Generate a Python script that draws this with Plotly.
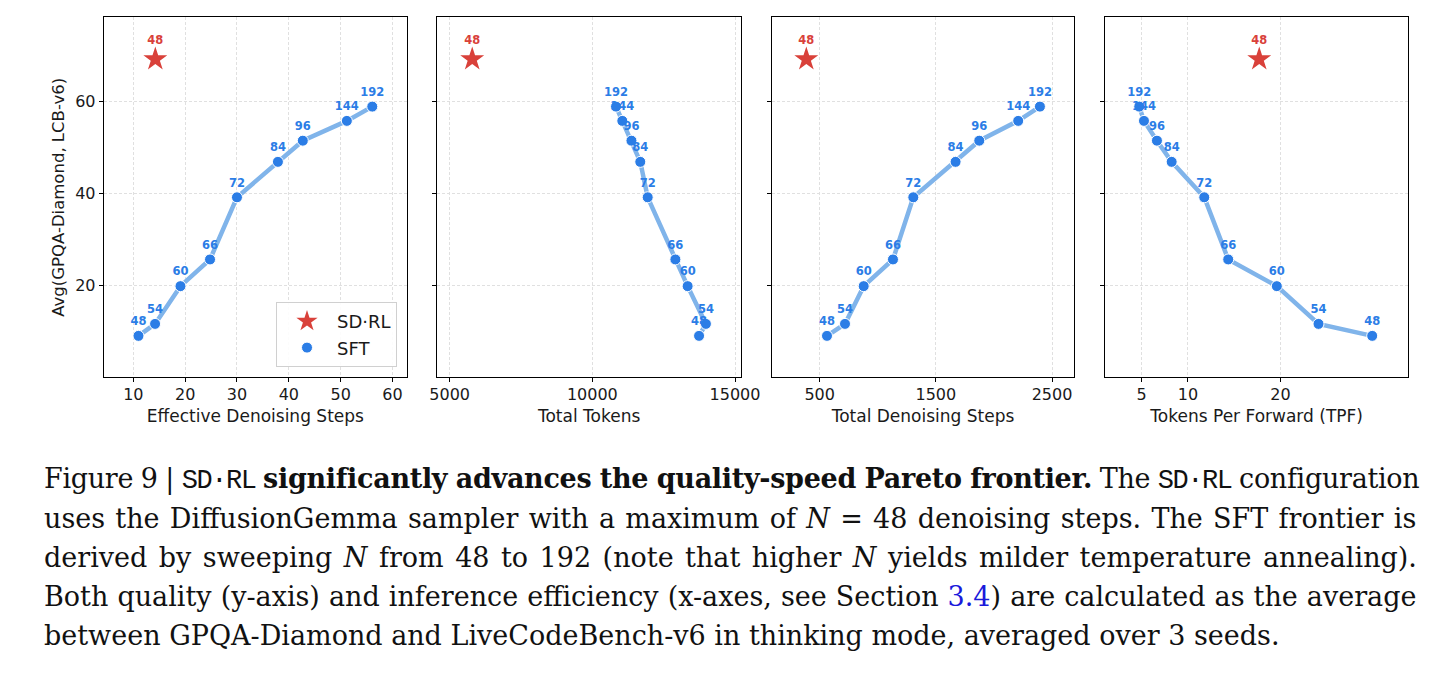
import plotly.graph_objects as go

# sampler steps N for each frontier point
steps_n = [48, 54, 60, 66, 72, 84, 96, 144, 192]

# quality = avg(GPQA-Diamond, LCB-v6)
sft_quality = [9.1, 11.7, 19.9, 25.7, 39.2, 46.9, 51.5, 55.8, 58.9]
sdrl_quality = [69.2]

# efficiency metrics for SFT frontier
sft_eff_steps = [11.0, 14.2, 19.1, 24.8, 30.0, 37.9, 42.7, 51.2, 56.1]
sft_total_tokens = [13740, 13980, 13340, 12910, 11940, 11680, 11370, 11050, 10830]
sft_total_steps = [563, 718, 879, 1131, 1306, 1670, 1874, 2209, 2396]
sft_tpf = [29.9, 24.1, 19.6, 14.35, 11.76, 8.24, 6.65, 5.25, 4.74]

# same metrics for SD-RL (N = 48)
sdrl_n = [48]
sdrl_eff_steps = [14.25]
sdrl_total_tokens = [5790]
sdrl_total_steps = [385]
sdrl_tpf = [17.7]

x_titles = ['Effective Denoising Steps', 'Total Tokens', 'Total Denoising Steps', 'Tokens Per Forward (TPF)']
x_ticks = [[10, 20, 30, 40, 50, 60], [5000, 10000, 15000], [500, 1500, 2500], [5, 10, 20]]
x_ranges = [[4.29, 62.8], [4566, 15210], [87, 2692], [1.04, 33.8]]
y_ticks = [20, 40, 60]

sft_x = [sft_eff_steps, sft_total_tokens, sft_total_steps, sft_tpf]
sdrl_x = [sdrl_eff_steps, sdrl_total_tokens, sdrl_total_steps, sdrl_tpf]

W, H = 1451, 676
panel_px = [(103.7, 407.0), (437.3, 741.0), (771.7, 1074.3), (1105.0, 1408.3)]
y_dom = [1 - 377.3 / H, 1 - 17.3 / H]

BLUE = '#2b7de6'
LINE_BLUE = '#80b4ea'
RED = '#d9413a'
AX_FONT = 'DejaVu Sans'

fig = go.Figure()

for i in range(4):
    xa = 'x' if i == 0 else 'x%d' % (i + 1)
    ya = 'y' if i == 0 else 'y%d' % (i + 1)
    # frontier line
    fig.add_trace(go.Scatter(x=sft_x[i], y=sft_quality, mode='lines', xaxis=xa, yaxis=ya,
                             line=dict(color=LINE_BLUE, width=4.5), showlegend=False, hoverinfo='skip'))
    # sft points + labels
    fig.add_trace(go.Scatter(x=sft_x[i], y=sft_quality, mode='markers+text', xaxis=xa, yaxis=ya,
                             text=[str(n) for n in steps_n], textposition='top center',
                             textfont=dict(family=AX_FONT, size=11.5, color=BLUE, weight='bold'),
                             marker=dict(color=BLUE, size=11, line=dict(color='white', width=1)),
                             name='SFT', showlegend=(i == 0), legendrank=2))
    # sd-rl star
    fig.add_trace(go.Scatter(x=sdrl_x[i], y=sdrl_quality, mode='markers+text', xaxis=xa, yaxis=ya,
                             text=[str(n) for n in sdrl_n], textposition='top center',
                             textfont=dict(family=AX_FONT, size=11.5, color=RED, weight='bold'),
                             marker=dict(color=RED, size=18, symbol='star', line=dict(width=0)),
                             name='SD·RL', showlegend=(i == 0), legendrank=1))

layout = dict(
    width=W, height=H,
    margin=dict(l=0, r=0, t=0, b=0, autoexpand=False),
    paper_bgcolor='white', plot_bgcolor='white',
    font=dict(family=AX_FONT, size=15, color='#1a1a1a'),
    legend=dict(x=397 / W, y=1 - 367 / H, xanchor='right', yanchor='bottom',
                bgcolor='rgba(255,255,255,0.9)', bordercolor='#d0d0d0', borderwidth=1,
                font=dict(size=18, color='#1a1a1a'), tracegroupgap=2, itemwidth=50),
)

for i in range(4):
    x0, x1 = panel_px[i]
    sfx = '' if i == 0 else str(i + 1)
    layout['xaxis' + sfx] = dict(
        domain=[x0 / W, x1 / W], anchor='y' + sfx, range=x_ranges[i], automargin=False,
        tickvals=x_ticks[i], tickformat='d', ticks='outside', ticklen=4, tickcolor='black',
        ticklabelstandoff=-2,
        showline=True, linecolor='black', linewidth=1, mirror=True,
        showgrid=True, gridcolor='#e0e0e0', griddash='3px,2px', gridwidth=1, zeroline=False,
        title=dict(text=x_titles[i], font=dict(size=17), standoff=7),
        tickfont=dict(size=16),
    )
    layout['yaxis' + sfx] = dict(
        domain=y_dom, anchor='x' + sfx, range=[0.1, 78.3], automargin=False,
        tickvals=y_ticks, ticks='outside', ticklen=4, tickcolor='black',
        showline=True, linecolor='black', linewidth=1, mirror=True,
        showgrid=True, gridcolor='#e0e0e0', griddash='3px,2px', gridwidth=1, zeroline=False,
        showticklabels=(i == 0), tickfont=dict(size=16),
        title=dict(text='Avg(GPQA-Diamond, LCB-v6)' if i == 0 else '', font=dict(size=16.5), standoff=6),
    )

fig.update_layout(**layout)

# caption below the panels, spacing tuned per line to mimic justified text
MONO = "<span style='font-family:Liberation Mono;letter-spacing:-1.5px'>SD·RL</span>"
caption_lines = [
    "Figure 9 | " + MONO + " <b>significantly advances the quality-speed Pareto frontier.</b> The " + MONO + " configuration",
    "uses the DiffusionGemma sampler with a maximum of <i>N</i> = 48 denoising steps. The SFT frontier is",
    "derived by sweeping <i>N</i> from 48 to 192 (note that higher <i>N</i> yields milder temperature annealing).",
    "Both quality (y-axis) and inference efficiency (x-axes, see Section <span style='color:#1a1adb'>3.4</span>) are calculated as the average",
    "between GPQA-Diamond and LiveCodeBench-v6 in thinking mode, averaged over 3 seeds.",
]
word_gaps = ["word-spacing:-0.6px;letter-spacing:-0.3px", "word-spacing:1.7px", "word-spacing:2.9px",
             "word-spacing:0.5px", ""]
baselines = [483, 522, 561, 600, 639]
for line, gap, base in zip(caption_lines, word_gaps, baselines):
    fig.add_annotation(text="<span style='" + gap + "'>" + line + "</span>", xref='paper', yref='paper',
                       x=42 / W, y=1 - (base - 4) / H,
                       xanchor='left', yanchor='middle', showarrow=False,
                       font=dict(family='DejaVu Serif', size=27, color='#111111'))

fig.write_html("out.html", config={'displayModeBar': False},
               post_script="document.body.style.margin='0';")
